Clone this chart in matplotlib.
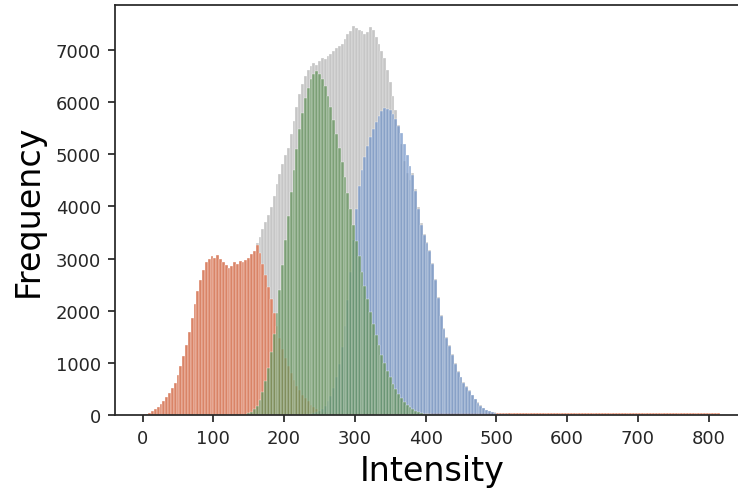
import numpy as np
import matplotlib
matplotlib.use("Agg")
import matplotlib.pyplot as plt

# histogram bin width (intensity units); each series lists counts from its first bin edge
BIN_W = 4

total_start = 0
total_counts = [
    10, 25, 45, 75, 110, 160, 215, 270, 340, 420, 510, 620, 760, 940, 1130, 1350,
    1590, 1860, 2130, 2380, 2590, 2780, 2930, 2990, 3050, 3020, 3060, 2990, 2930, 2870,
    2820, 2860, 2940, 2900, 2950, 2930, 2980, 3010, 3090, 3150,
    3300, 3420, 3560, 3700, 3830, 3990, 4200, 4430, 4620, 4820, 4980, 5130, 5380, 5640,
    5900, 6150, 6340, 6500, 6620, 6700, 6760, 6720, 6790, 6850, 6820, 6880, 6930, 6990,
    7030, 7080, 7120, 7210, 7300, 7360, 7460, 7420, 7380, 7360, 7300, 7350, 7440, 7380,
    7250, 7110, 6980, 6850, 6620, 6380, 6120, 5850, 5560, 5200, 4880, 4650, 4500,
    4640, 4330, 3980, 3680, 3470, 3320, 3170, 2920, 2600, 2270, 1920, 1670, 1500, 1350,
    1170, 1000, 850, 735, 635, 555, 470, 390, 310, 240, 185, 140, 105, 80, 62, 52, 46,
    43, 41, 40, 40,
]

low_start = 0
low_counts = [
    10, 25, 45, 75, 110, 160, 215, 270, 340, 420, 510, 620, 760, 940, 1130, 1350,
    1590, 1860, 2130, 2380, 2590, 2780, 2930, 2990, 3050, 3020, 3060, 2990, 2930, 2870,
    2820, 2860, 2940, 2900, 2950, 2930, 2980, 3010, 3090, 3150, 3260, 3110, 2900, 2680,
    2450, 2230, 1950, 1700, 1480, 1270, 1090, 940, 800, 670, 560, 470, 390, 320, 260,
    200, 150, 110, 80, 60, 50, 45, 42, 40, 40, 39,
    38, 39, 37, 38, 40, 37, 36, 38, 39, 37, 38, 37, 39, 38, 36, 37, 38, 39, 37, 38,
    37, 36, 38, 37, 39, 38, 37, 37, 38, 36, 37, 39, 38, 37, 36, 38, 37, 38, 37, 39,
    37, 38, 36, 37, 38, 37, 39, 37, 36, 38, 37, 38, 37, 36, 37, 38, 39, 37, 37, 38,
    36, 37, 38, 37, 37, 39, 38, 36, 37, 38, 37, 37, 38, 36, 37, 39, 37, 38, 37, 36,
    38, 37, 37, 38, 39, 37, 36, 37, 38, 37, 38, 37, 36, 37, 38, 37, 39, 37, 38, 37,
    37, 36, 38, 37, 38, 39, 37, 37, 36, 38, 37, 38, 37, 37, 39, 36, 37, 38, 37, 38,
    37, 36, 38, 37, 37, 38, 39, 37, 36, 37, 38, 37, 38, 37,
]

mid_start = 148
mid_counts = [
    30, 60, 110, 180, 290, 440, 650, 900, 1200, 1550, 1950, 2400, 2880, 3350, 3820,
    4280, 4700, 5100, 5480, 5800, 6070, 6280, 6450, 6540, 6600, 6540, 6440, 6300, 6120,
    5900, 5650, 5380, 5120, 4850, 4560, 4260, 3950, 3650, 3340, 3040, 2750, 2480, 2220,
    1980, 1750, 1540, 1340, 1160, 1000, 850, 720, 600, 490, 400, 320, 250, 195, 150,
    110, 80, 58, 40, 27, 18, 12, 7,
]

high_start = 228
high_counts = [
    5, 10, 18, 30, 50, 80, 120, 180, 260, 370, 520, 720, 980, 1300, 1700, 2200, 2750,
    3350, 3950, 4400, 4700, 4950, 5150, 5330, 5480, 5620, 5740, 5830, 5880, 5870, 5850,
    5780, 5680, 5550, 5400, 5200, 4980, 4780, 4600, 4300, 3950, 3650, 3450, 3300, 3150,
    2900, 2580, 2250, 1900, 1650, 1480, 1330, 1150, 980, 830, 720, 620, 540, 460, 380,
    300, 230, 175, 130, 95, 70, 50, 36, 26, 19, 14, 10, 7, 5, 3,
]

x_ticks = [0, 100, 200, 300, 400, 500, 600, 700, 800]
y_ticks = [0, 1000, 2000, 3000, 4000, 5000, 6000, 7000]

plt.rcParams["font.family"] = ["DejaVu Sans"]
plt.rcParams["axes.edgecolor"] = "#262626"
plt.rcParams["axes.linewidth"] = 1.25
plt.rcParams["xtick.color"] = "#262626"
plt.rcParams["ytick.color"] = "#262626"
plt.rcParams["text.color"] = "#262626"

fig = plt.figure(figsize=(7.38, 4.89), dpi=100)
ax = fig.add_axes([115 / 738, 73 / 489, 634 / 738, 410 / 489])


def draw_hist(start, counts, color, alpha):
    counts = np.asarray(counts, dtype=float)
    edges = start + BIN_W * np.arange(len(counts))
    ax.bar(edges, counts, width=BIN_W, align="edge", color=color, alpha=alpha,
           edgecolor="white", linewidth=0.3)


draw_hist(total_start, total_counts, "#b0b0b0", 0.72)
draw_hist(low_start, low_counts, "#e0704a", 0.76)
draw_hist(high_start, high_counts, "#7093c8", 0.72)
draw_hist(mid_start, mid_counts, "#62925a", 0.74)

ax.set_xlim(-39, 857)
ax.set_ylim(0, 7863)
ax.set_xticks(x_ticks)
ax.set_yticks(y_ticks)
ax.tick_params(labelsize=13, length=5, width=1.25, pad=5)
ax.set_xlabel("Intensity", fontsize=24, labelpad=5)
ax.set_ylabel("Frequency", fontsize=24, labelpad=8)

fig.savefig("out.png", dpi=100)
